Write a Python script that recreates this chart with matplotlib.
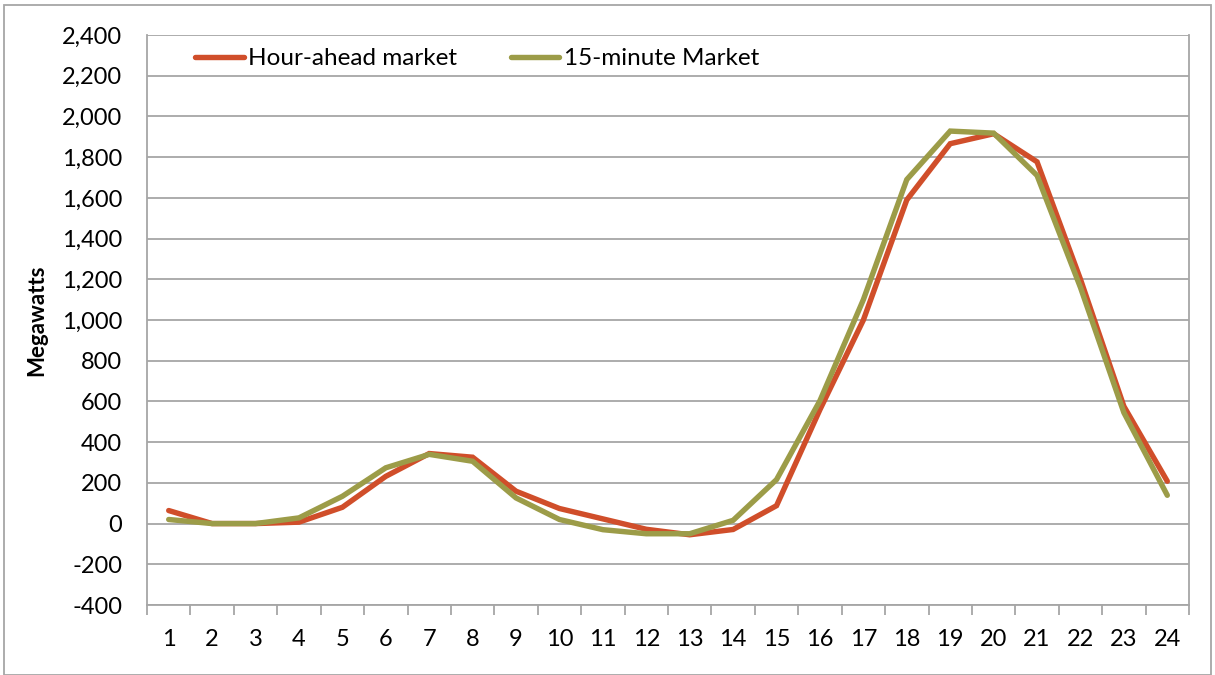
import matplotlib
matplotlib.use("Agg")
import matplotlib.pyplot as plt
import numpy as np

hours = list(range(1, 25))
hour_ahead = [64, 0, 0, 7, 80, 232, 344, 326, 159, 74, 23, -28, -55, -29, 88, 560,
              1000, 1590, 1866, 1915, 1777, 1200, 576, 208]
fifteen_min = [20, 0, 0, 28, 134, 274, 340, 306, 126, 20, -30, -50, -50, 16, 216, 604,
               1100, 1690, 1928, 1918, 1710, 1160, 545, 139]
y_ticks = list(range(-400, 2401, 200))

plt.rcParams['font.family'] = ['Lato', 'DejaVu Sans']

fig = plt.figure(figsize=(12.15, 6.75), dpi=100)
ax = fig.add_axes([147/1215, 70/675, (1189-147)/1215, 570/675])

red = '#D04E2A'
green = '#9C9C48'
x = np.arange(len(hours))
ax.plot(x, hour_ahead, color=red, lw=3.9, label='Hour-ahead market', solid_capstyle='round', solid_joinstyle='miter')
ax.plot(x, fifteen_min, color=green, lw=3.9, label='15-minute Market', solid_capstyle='round', solid_joinstyle='miter')

ax.set_xlim(-0.5, len(hours) - 0.5)
ax.set_ylim(-400, 2400)
ax.set_yticks(y_ticks)
ax.set_yticklabels([f"{v:,}" for v in y_ticks], fontsize=17)
ax.set_xticks(x)
ax.set_xticklabels([str(h) for h in hours], fontsize=17)
ax.set_xticks(np.arange(-0.5, len(hours), 1), minor=True)
ax.tick_params(axis='x', which='major', length=0, pad=17)
ax.tick_params(axis='x', which='minor', length=7, color='#A6A6A6', width=1.3)
ax.tick_params(axis='y', length=0, pad=18)
ax.grid(axis='y', color='#A6A6A6', lw=1.3)
ax.set_axisbelow(True)
for s in ['left', 'bottom', 'right']:
    ax.spines[s].set_color('#A6A6A6')
    ax.spines[s].set_linewidth(1.3)
ax.spines['top'].set_visible(False)

ax.set_ylabel('Megawatts', fontsize=16, fontweight='bold', labelpad=10)

leg = ax.legend(loc='upper left', ncol=2, frameon=False, fontsize=17.5,
                bbox_to_anchor=(0.025, 1.015), handlelength=2.0, handletextpad=0.2,
                columnspacing=2.2)

fig.patches.append(plt.Rectangle((4/1215, 0), 1 - 8/1215, 1 - 5/675, transform=fig.transFigure,
                                 fill=False, edgecolor='#A6A6A6', lw=1.3))

fig.savefig('out.png', dpi=100)
